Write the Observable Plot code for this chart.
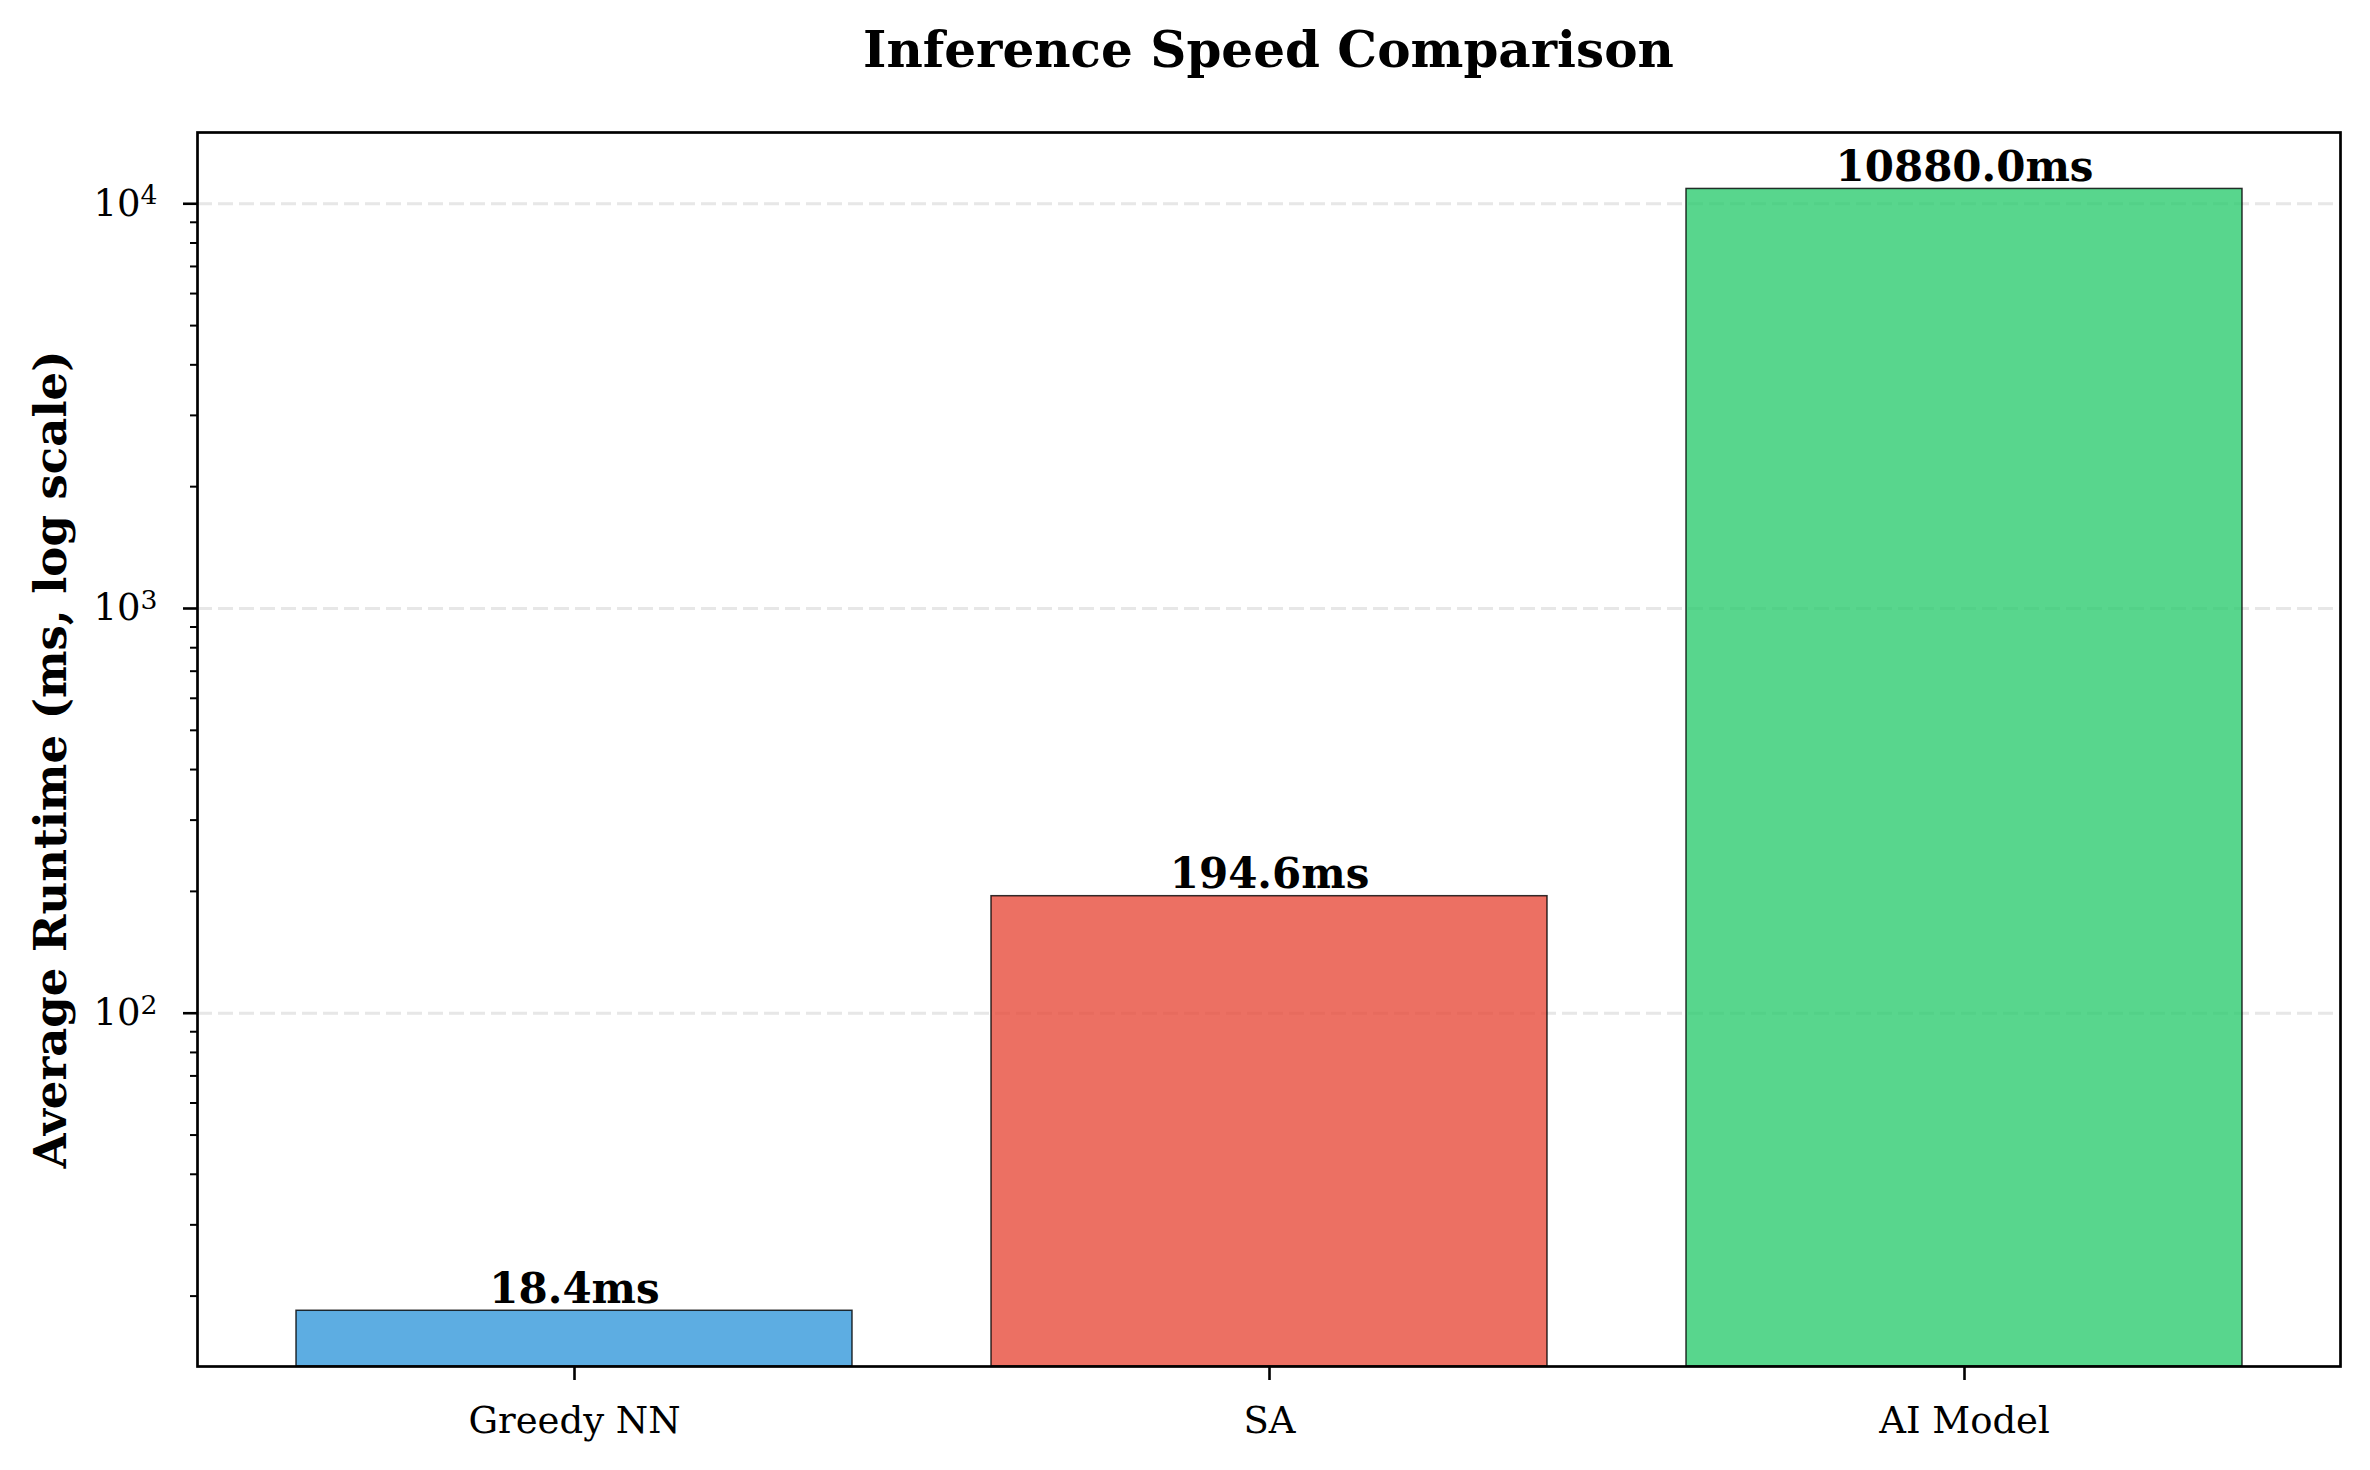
<!DOCTYPE html>
<html>
<head>
<meta charset="utf-8">
<script src="https://cdn.jsdelivr.net/npm/d3@7"></script>
<script src="https://cdn.jsdelivr.net/npm/@observablehq/plot@0.6"></script>
<style>
  html, body { margin: 0; padding: 0; background: #fff; }
  #wrap { width: 2370px; height: 1470px; position: relative; overflow: hidden; }
  #title { position: relative; width: 2370px; height: 100px; }
  #title span {
    position: absolute; left: 197px; right: 30px; top: 25px;
    text-align: center; font-family: "DejaVu Serif", serif; font-weight: bold;
    font-size: 50px; line-height: 1; color: #000;
  }
  #chart svg { display: block; }
</style>
</head>
<body>
<div id="wrap">
  <div id="title"><span>Inference Speed Comparison</span></div>
  <div id="chart"></div>
</div>
<script>
// ---- data ----
const methods = ["Greedy NN", "SA", "AI Model"];
const runtimes = [18.4, 194.6, 10880.0];
const barLabels = ["18.4ms", "194.6ms", "10880.0ms"];
const barColors = ["#3498db", "#e74c3c", "#2ecc71"];
const yLimits = [13.4, 15000];
const majorTicks = [100, 1000, 10000];
const minorTicks = [20, 30, 40, 50, 60, 70, 80, 90,
                    200, 300, 400, 500, 600, 700, 800, 900,
                    2000, 3000, 4000, 5000, 6000, 7000, 8000, 9000];
const yLabel = "Average Runtime (ms, log scale)";

const table = methods.map((m, i) => ({
  method: m, runtime: runtimes[i], label: barLabels[i], color: barColors[i]
}));

const powFmt = d => "10^" + Math.round(Math.log10(d));

const chart = Plot.plot({
  width: 2370,
  height: 1370,
  marginLeft: 197,
  marginRight: 30,
  marginTop: 32,
  marginBottom: 104,
  style: { fontFamily: "DejaVu Serif, serif", fontSize: "37px", color: "#000", background: "#fff" },
  x: { domain: methods, paddingInner: 0.2, paddingOuter: 0.14, label: null },
  y: { type: "log", domain: yLimits, label: null },
  marks: [
    Plot.gridY(majorTicks, { stroke: "#b0b0b0", strokeOpacity: 0.3, strokeWidth: 3, strokeDasharray: "15,6" }),
    Plot.barY(table, {
      x: "method", y1: yLimits[0], y2: "runtime",
      fill: "color", fillOpacity: 0.8,
      stroke: "#000", strokeOpacity: 0.8, strokeWidth: 1.5
    }),
    Plot.text(table, {
      x: "method", y: "runtime", text: "label",
      lineAnchor: "bottom", dy: -8,
      fontWeight: "bold", fontSize: 42, fill: "#000"
    }),
    Plot.axisY(minorTicks, { tickSize: 7, strokeWidth: 2, tickFormat: () => "", label: null }),
    Plot.axisY(majorTicks, { tickSize: 14, strokeWidth: 2.6, tickPadding: 26, tickFormat: powFmt, fontSize: 37, label: null, ariaLabel: "y-major" }),
    Plot.axisX({ tickSize: 14, strokeWidth: 2.6, tickPadding: 26, fontSize: 37, label: null }),
    Plot.text([yLabel], {
      frameAnchor: "left", dx: -146, dy: 10, rotate: -90,
      text: d => d, textAnchor: "middle", lineAnchor: "middle",
      fontWeight: "bold", fontSize: 45, fill: "#000"
    }),
    Plot.frame({ stroke: "#000", strokeWidth: 2.7 })
  ]
});

// render exponents as real superscript text
d3.select(chart).selectAll("text").each(function () {
  const t = d3.select(this);
  const s = t.text();
  const m = /^10\^(\d+)$/.exec(s);
  if (m) {
    t.text("10");
    t.append("tspan").attr("dy", "-0.42em").attr("font-size", "0.72em").text(m[1]);
  }
});

document.getElementById("chart").appendChild(chart);
</script>
</body>
</html>
